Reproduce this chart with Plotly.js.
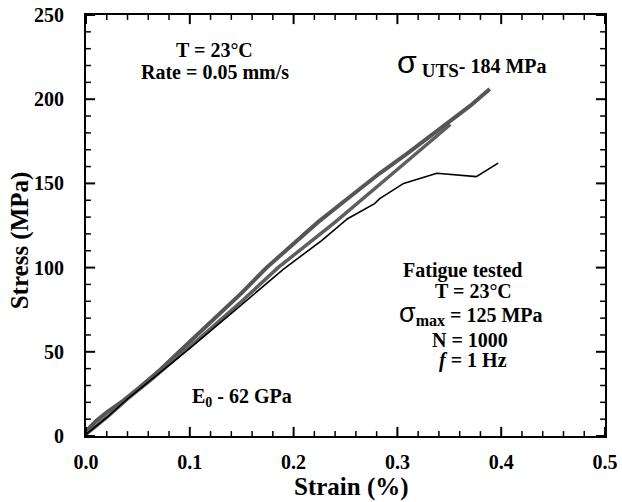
<!DOCTYPE html>
<html>
<head>
<meta charset="utf-8">
<script src="https://cdn.plot.ly/plotly-3.0.1.min.js"></script>
<style>html,body{margin:0;padding:0;background:#fff;}</style>
</head>
<body>
<div id="chart" style="width:622px;height:502px;"></div>
<script>
// Monotonic test (UTS) - upper gray curve
const strainA = [0, 0.01, 0.02, 0.036, 0.05, 0.071, 0.1, 0.15, 0.174, 0.203, 0.2235, 0.25, 0.283, 0.31, 0.338, 0.351, 0.37, 0.389];
const stressA = [3, 9, 14, 21, 28, 39, 56, 85, 100, 116, 127, 140, 156, 168, 181, 187, 196, 206];
// second gray curve
const strainB = [0, 0.02, 0.04, 0.062, 0.1, 0.15, 0.185, 0.219, 0.24, 0.286, 0.32, 0.341, 0.351];
const stressB = [1, 11, 22, 33, 53, 80, 100, 117, 127, 151, 169, 180, 185];
// fatigue-tested specimen - black curve
const strainC = [0, 0.02, 0.04, 0.06, 0.1, 0.15, 0.19, 0.227, 0.252, 0.278, 0.283, 0.306, 0.338, 0.376, 0.397];
const stressC = [1, 11, 22, 32, 52, 78, 99, 116, 129, 138, 141, 150, 156, 154, 162];

const xRange = [0, 0.5];
const yRange = [0, 250];
const xTickVals = [0, 0.1, 0.2, 0.3, 0.4, 0.5];
const xTickText = ['0.0', '0.1', '0.2', '0.3', '0.4', '0.5'];
const yTickVals = [0, 50, 100, 150, 200, 250];
const yTickText = ['0', '50', '100', '150', '200', '250'];
const xMinorStep = 0.02, yMinorStep = 10;

const serif = 'Liberation Serif, Times New Roman, serif';

const traces = [
  {x: strainA, y: stressA, mode: 'lines', line: {color: '#555555', width: 4}, hoverinfo: 'skip'},
  {x: strainB, y: stressB, mode: 'lines', line: {color: '#5e5e5e', width: 3.5}, hoverinfo: 'skip'},
  {x: strainC, y: stressC, mode: 'lines', line: {color: '#000000', width: 1.6}, hoverinfo: 'skip'}
];

// inside tick marks: line markers centred on the plot edges; the outer half is clipped by the plot area
function isMajor(v, vals) { return vals.some(t => Math.abs(t - v) < 1e-9); }
const xMinorVals = [], yMinorVals = [];
for (let i = 0; i <= Math.round((xRange[1] - xRange[0]) / xMinorStep); i++) {
  const v = +(xRange[0] + i * xMinorStep).toFixed(4);
  if (!isMajor(v, xTickVals)) xMinorVals.push(v);
}
for (let i = 0; i <= Math.round((yRange[1] - yRange[0]) / yMinorStep); i++) {
  const v = yRange[0] + i * yMinorStep;
  if (!isMajor(v, yTickVals)) yMinorVals.push(v);
}
function tickTrace(xs, ys, symbol, size, width) {
  return {x: xs, y: ys, mode: 'markers', cliponaxis: true, hoverinfo: 'skip', showlegend: false,
    marker: {symbol: symbol, size: size, color: '#000', line: {color: '#000', width: width}}};
}
[[xTickVals, 13, 2], [xMinorVals, 7, 1.5]].forEach(function (d) {
  traces.push(tickTrace(d[0], d[0].map(() => yRange[0]), 'line-ns-open', d[1], d[2]));
  traces.push(tickTrace(d[0], d[0].map(() => yRange[1]), 'line-ns-open', d[1], d[2]));
});
[[yTickVals, 13, 2], [yMinorVals, 7, 1.5]].forEach(function (d) {
  traces.push(tickTrace(d[0].map(() => xRange[0]), d[0], 'line-ew-open', d[1], d[2]));
  traces.push(tickTrace(d[0].map(() => xRange[1]), d[0], 'line-ew-open', d[1], d[2]));
});

function ann(x, y, text, size) {
  return {x: x, y: y, xref: 'x', yref: 'y', text: text, showarrow: false,
    xanchor: 'center', yanchor: 'middle', font: {family: serif, size: size || 20, color: '#000'}};
}
function sig(px) {
  return '<span style="font-family:Liberation Sans, Arial, sans-serif;font-size:' + px + 'px">σ</span>';
}

const layout = {
  width: 622, height: 502,
  margin: {l: 86, r: 17, t: 15, b: 66},
  showlegend: false,
  xaxis: {
    range: xRange, tickmode: 'array', tickvals: xTickVals, ticktext: xTickText.map(t => '<b>' + t + '</b>'),
    ticks: 'outside', ticklen: 7, tickcolor: 'rgba(0,0,0,0)',
    showline: true, linewidth: 2, linecolor: '#000', mirror: true,
    showgrid: false, zeroline: false, fixedrange: true,
    tickfont: {family: serif, size: 20, color: '#000'}
  },
  yaxis: {
    range: yRange, tickmode: 'array', tickvals: yTickVals, ticktext: yTickText.map(t => '<b>' + t + '</b>'),
    ticks: 'outside', ticklen: 16, tickcolor: 'rgba(0,0,0,0)',
    showline: true, linewidth: 2, linecolor: '#000', mirror: true,
    showgrid: false, zeroline: false, fixedrange: true,
    tickfont: {family: serif, size: 20, color: '#000'}
  },
  annotations: [
    {xref: 'paper', yref: 'paper', x: 0.5117, y: -0.121, text: '<b>Strain (%)</b>', showarrow: false,
     xanchor: 'center', yanchor: 'middle', font: {family: serif, size: 25, color: '#000'}},
    {xref: 'paper', yref: 'paper', x: -0.127, y: 0.465, text: '<b>Stress (MPa)</b>', showarrow: false, textangle: -90,
     xanchor: 'center', yanchor: 'middle', font: {family: serif, size: 25, color: '#000'}},
    ann(0.124, 229, '<b>T = 23°C</b>'),
    ann(0.124, 216, '<b>Rate = 0.05 mm/s</b>'),
    ann(0.371, 222, sig(32) + '<b> <sub><span style="font-size:19px">UTS</span></sub>- 184 MPa</b>'),
    ann(0.363, 98, '<b>Fatigue tested</b>'),
    ann(0.373, 86, '<b>T = 23°C</b>'),
    ann(0.371, 73, sig(27) + '<b><sub><span style="font-size:16px">max</span></sub> = 125 MPa</b>'),
    ann(0.370, 57, '<b>N = 1000</b>'),
    ann(0.373, 45, '<b><i>f</i> = 1 Hz</b>'),
    ann(0.150, 23, '<b>E<sub>0</sub> - 62 GPa</b>')
  ]
};

Plotly.newPlot('chart', traces, layout, {displayModeBar: false});
</script>
</body>
</html>
